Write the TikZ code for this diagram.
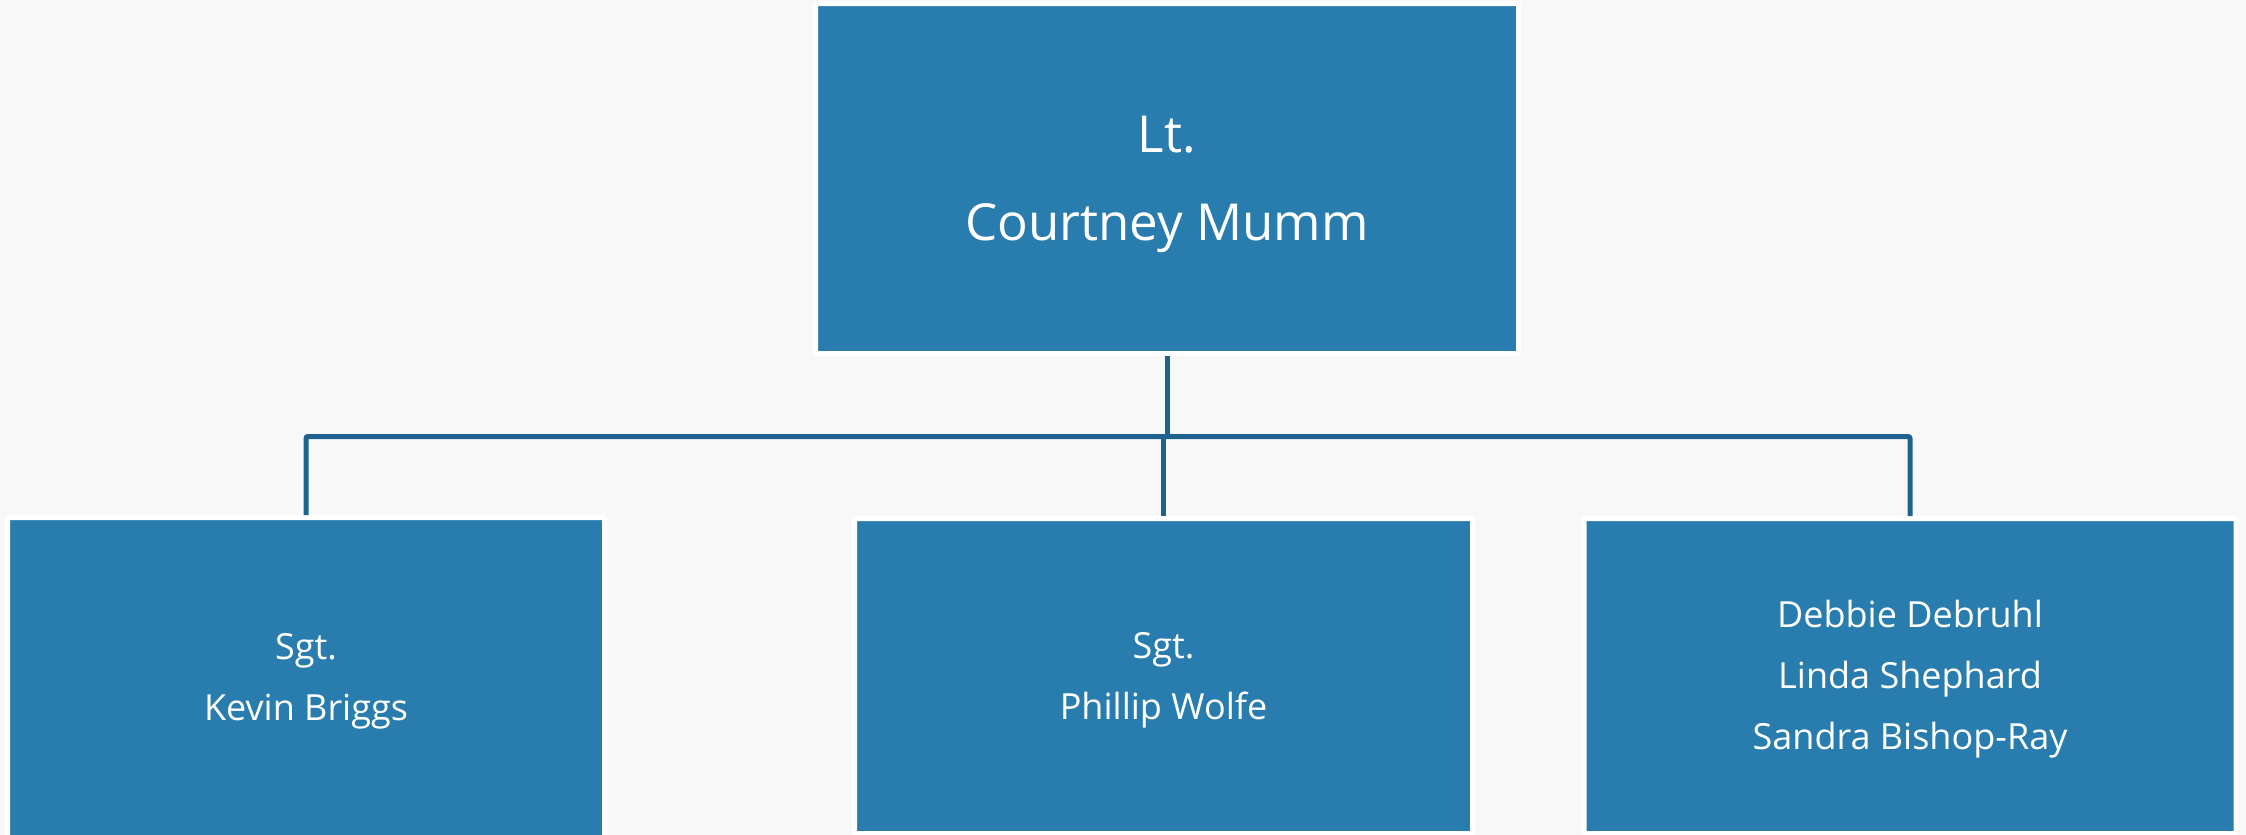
\documentclass[tikz,border=0pt]{standalone}
\usepackage{fontspec}
\setmainfont{Open Sans}
\definecolor{bg}{HTML}{F8F8F8}
\definecolor{boxblue}{HTML}{287DAE}
\definecolor{linkblue}{HTML}{1E6390}
\begin{document}
\begin{tikzpicture}[x=1pt,y=-1pt,
  orgbox/.style={fill=boxblue, draw=white, line width=5pt, rounded corners=2pt,
    text=white, align=center, inner sep=0pt, text depth=0pt},
  bigtext/.style={font=\fontsize{51}{88}\selectfont, text height=124.4pt},
  smalltext/.style={font=\fontsize{36}{61}\selectfont},
  link/.style={draw=linkblue, line width=5pt, rounded corners=2pt}]
\fill[bg] (0,0) rectangle (2246,835);
\useasboundingbox (0,0) rectangle (2246,835);
\node[orgbox, bigtext, minimum width=703pt, minimum height=350pt] (top) at (1167,178.5) {Lt.\\Courtney Mumm};
\node[orgbox, smalltext, text height=86.7pt, minimum width=597pt, minimum height=320pt] (left) at (306,677.5) {Sgt.\\Kevin Briggs};
\node[orgbox, smalltext, text height=86.7pt, minimum width=618pt, minimum height=315pt] (mid) at (1163.5,676) {Sgt.\\Phillip Wolfe};
\node[orgbox, smalltext, text height=147.7pt, minimum width=652pt, minimum height=315pt] (right) at (1910,676) {Debbie Debruhl\\Linda Shephard\\Sandra Bishop-Ray};
\coordinate (bus) at (1167,436.5);
\draw[link] (top.south) -- (bus);
\draw[link] (left.north) |- (bus) -| (right.north);
\draw[link] (mid.north) -- (mid.north |- bus);
\end{tikzpicture}
\end{document}
